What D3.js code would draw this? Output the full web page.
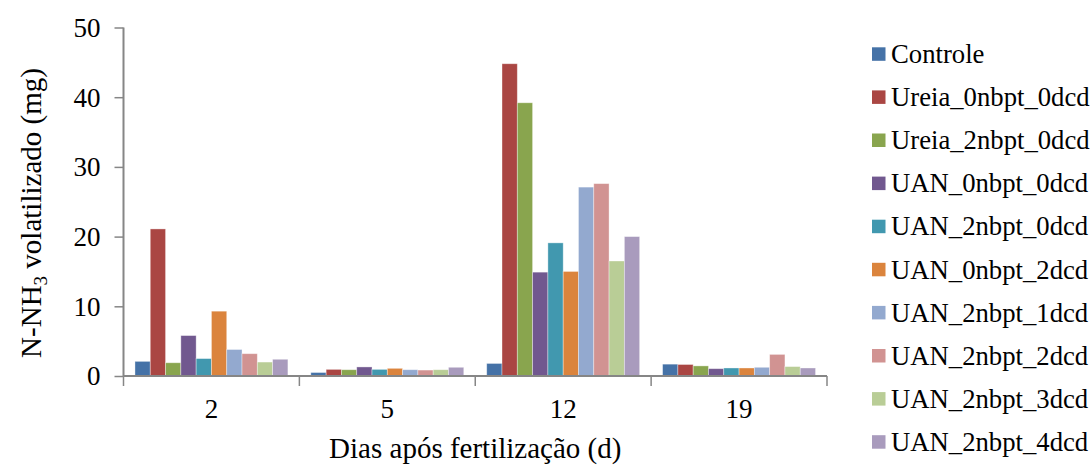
<!DOCTYPE html>
<html>
<head>
<meta charset="utf-8">
<script src="https://cdn.jsdelivr.net/npm/d3@7"></script>
</head>
<body style="margin:0;background:#fff">
<svg id="chart" width="1092" height="465" style="display:block"></svg>
<script>
// Days after fertilization (categories on the x axis)
const days = ["2", "5", "12", "19"];

// Treatments (one bar per treatment in each day group)
const treatments = [
  "Controle",
  "Ureia_0nbpt_0dcd",
  "Ureia_2nbpt_0dcd",
  "UAN_0nbpt_0dcd",
  "UAN_2nbpt_0dcd",
  "UAN_0nbpt_2dcd",
  "UAN_2nbpt_1dcd",
  "UAN_2nbpt_2dcd",
  "UAN_2nbpt_3dcd",
  "UAN_2nbpt_4dcd"
];

// Volatilized N-NH3 (mg), one array per treatment, in the order of `days`
const controle       = [2.1, 0.5, 1.8, 1.7];
const ureia_0n_0d    = [21.1, 0.95, 44.8, 1.65];
const ureia_2n_0d    = [1.9, 0.9, 39.2, 1.45];
const uan_0n_0d      = [5.8, 1.3, 14.9, 1.05];
const uan_2n_0d      = [2.5, 0.95, 19.1, 1.15];
const uan_0n_2d      = [9.3, 1.1, 15.0, 1.15];
const uan_2n_1d      = [3.8, 0.9, 27.1, 1.25];
const uan_2n_2d      = [3.2, 0.85, 27.6, 3.1];
const uan_2n_3d      = [2.0, 0.9, 16.5, 1.35];
const uan_2n_4d      = [2.4, 1.25, 20.0, 1.15];

const seriesValues = [
  controle, ureia_0n_0d, ureia_2n_0d, uan_0n_0d, uan_2n_0d,
  uan_0n_2d, uan_2n_1d, uan_2n_2d, uan_2n_3d, uan_2n_4d
];

const colors = [
  "#4572A7", "#AA4643", "#89A54E", "#71588F", "#4198AF",
  "#DB843D", "#93A9CF", "#D19392", "#B9CD96", "#A99BBD"
];

const yTicks = [0, 10, 20, 30, 40, 50];

const serif = "\"Liberation Serif\"";
const svg = d3.select("#chart");

const plot = { left: 123.5, right: 827, top: 27.5, bottom: 376 };

const x0 = d3.scaleBand()
  .domain(days)
  .range([plot.left, plot.right])
  .paddingInner(0)
  .paddingOuter(0);

// 150% gap width between groups: the bar group takes 10 of 11.5 bar widths
const barW = x0.bandwidth() / 11.5;
const x1 = d3.scaleBand()
  .domain(treatments)
  .range([0.75 * barW, x0.bandwidth() - 0.75 * barW])
  .padding(0);

const y = d3.scaleLinear().domain([0, 50]).range([plot.bottom, plot.top]);

const color = d3.scaleOrdinal().domain(treatments).range(colors);

const axisColor = "#868686";

// Bars
const rows = [];
treatments.forEach((t, i) => {
  days.forEach((d, j) => rows.push({ treatment: t, day: d, value: seriesValues[i][j] }));
});

svg.append("g")
  .selectAll("rect")
  .data(rows)
  .join("rect")
  .attr("x", d => x0(d.day) + x1(d.treatment))
  .attr("y", d => y(d.value))
  .attr("width", x1.bandwidth())
  .attr("height", d => y(0) - y(d.value))
  .attr("fill", d => color(d.treatment))
  .attr("stroke", "rgba(255,255,255,0.45)")
  .attr("stroke-width", 0.8);

// Y axis
const yAxis = d3.axisLeft(y)
  .tickValues(yTicks)
  .tickSize(9)
  .tickPadding(14)
  .tickFormat(d3.format("d"));

const gy = svg.append("g")
  .attr("transform", `translate(${plot.left},0)`)
  .call(yAxis)
  .attr("font-family", null)
  .attr("font-size", null);
gy.select(".domain").attr("stroke", axisColor).attr("stroke-width", 2)
  .attr("d", `M0,${plot.top}V${plot.bottom}`);
gy.selectAll(".tick line").attr("stroke", axisColor).attr("stroke-width", 1.5);
gy.selectAll(".tick text")
  .attr("fill", "#000")
  .style("font-family", serif)
  .style("font-size", "27px")
  .attr("dy", "0.33em");

// X axis (ticks sit on category boundaries, labels centred in each band)
const gx = svg.append("g").attr("transform", `translate(0,${plot.bottom})`);
gx.append("line")
  .attr("x1", plot.left).attr("x2", plot.right)
  .attr("stroke", axisColor).attr("stroke-width", 2);
const bounds = days.map(d => x0(d)).concat([x0(days[days.length - 1]) + x0.bandwidth()]);
gx.selectAll("line.bound")
  .data(bounds)
  .join("line")
  .attr("class", "bound")
  .attr("x1", d => d).attr("x2", d => d)
  .attr("y1", 0).attr("y2", 10)
  .attr("stroke", axisColor).attr("stroke-width", 1.5);
gx.selectAll("text")
  .data(days)
  .join("text")
  .attr("x", d => x0(d) + x0.bandwidth() / 2)
  .attr("y", 42)
  .attr("text-anchor", "middle")
  .style("font-family", serif)
  .style("font-size", "27px")
  .attr("fill", "#000")
  .text(d => d);

// Axis titles
svg.append("text")
  .attr("x", (plot.left + plot.right) / 2)
  .attr("y", 458)
  .attr("text-anchor", "middle")
  .style("font-family", serif)
  .style("font-size", "29px")
  .attr("fill", "#000")
  .text("Dias após fertilização (d)");

const yt = svg.append("text")
  .attr("transform", "translate(41,213) rotate(-90)")
  .attr("text-anchor", "middle")
  .style("font-family", serif)
  .style("font-size", "29px")
  .attr("fill", "#000");
yt.append("tspan").text("N-NH");
yt.append("tspan").style("font-size", "19px").attr("dy", 6).text("3");
yt.append("tspan").attr("dy", -6).text(" volatilizado (mg)");

// Legend
const legend = svg.append("g");
const rowH = 43.1;
treatments.forEach((t, i) => {
  const cy = 54 + i * rowH;
  legend.append("rect")
    .attr("x", 872).attr("y", cy - 6.7)
    .attr("width", 13.5).attr("height", 13.5)
    .attr("fill", color(t));
  legend.append("text")
    .attr("x", 891).attr("y", cy + 9)
    .style("font-family", serif)
    .style("font-size", "26.7px")
    .attr("fill", "#000")
    .text(t);
});
</script>
</body>
</html>
